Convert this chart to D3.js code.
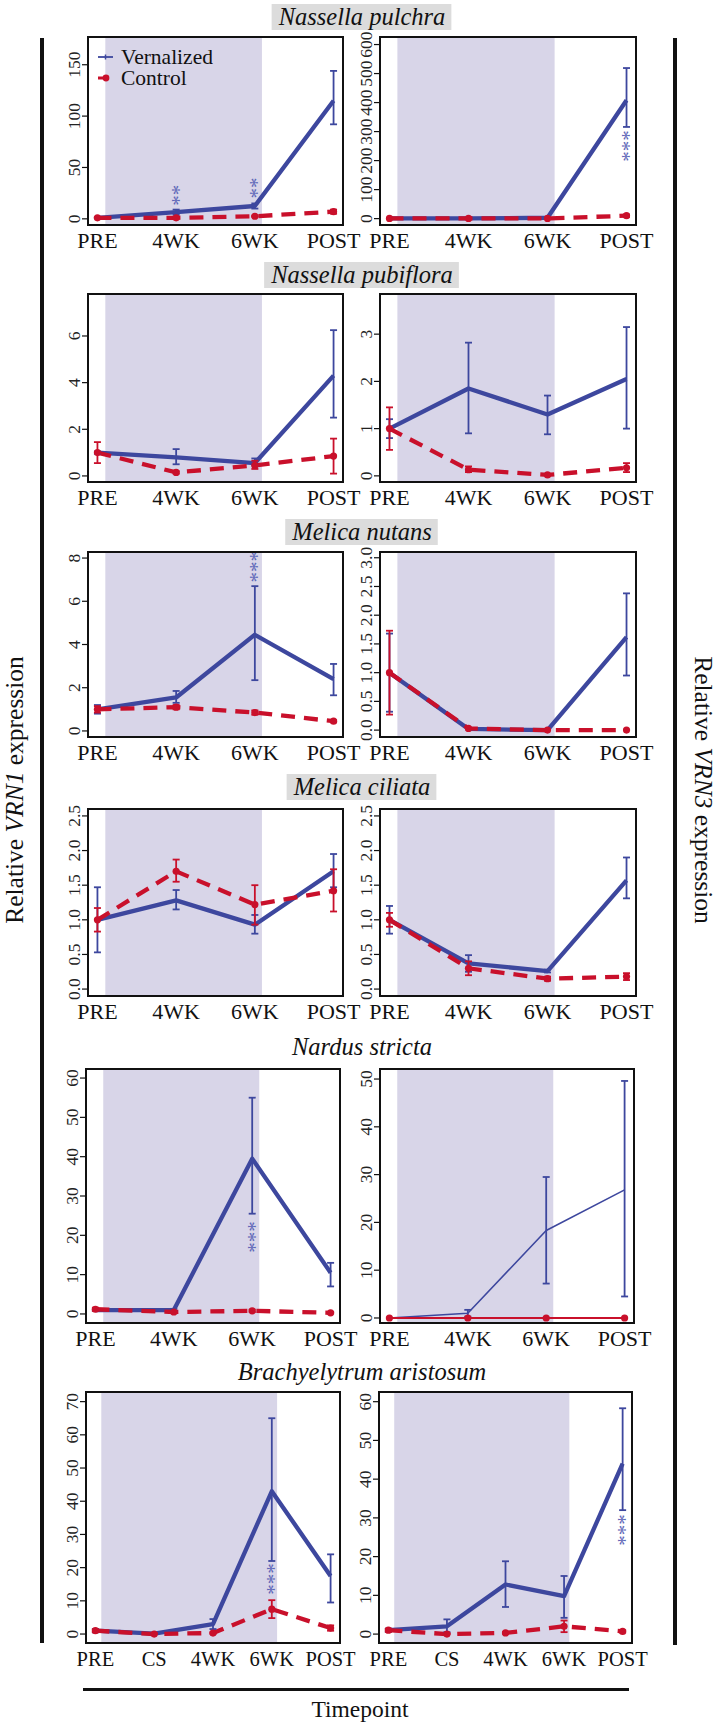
<!DOCTYPE html>
<html><head><meta charset="utf-8">
<script src="https://cdn.jsdelivr.net/npm/d3@7"></script>
<style>body{margin:0;background:#fff}svg{display:block}</style>
</head><body>
<script>
// ---------------- DATA ----------------
const species = ["Nassella pulchra","Nassella pubiflora","Melica nutans","Melica ciliata","Nardus stricta","Brachyelytrum aristosum"];
const timepoints4 = ["PRE","4WK","6WK","POST"];
const timepoints5 = ["PRE","CS","4WK","6WK","POST"];

// VRN1 (left column)
const vrn1VernMean = [[1,6.5,12.5,115],[1.0,0.8,0.55,4.3],[1.0,1.55,4.45,2.4],[1.0,1.28,0.93,1.7],[1.0,1.0,39.5,10.5],[1.0,0.1,3.0,43,17.5]];
const vrn1VernLo   = [[0.5,4,10,92],[0.95,0.5,0.45,2.5],[0.8,1.3,2.35,1.65],[0.53,1.15,0.8,1.47],[0.8,0.7,25.5,7],[0.5,0,1.5,22,9.5]];
const vrn1VernHi   = [[1.5,9,15,144],[1.05,1.15,0.75,6.25],[1.2,1.85,6.7,3.1],[1.47,1.43,1.07,1.95],[1.2,1.3,55,13],[1.5,0.2,4.5,65,24]];
const vrn1CtrlMean = [[1,1,2.5,7],[1.0,0.15,0.45,0.85],[1.0,1.1,0.85,0.45],[1.0,1.7,1.22,1.42],[1.2,0.5,0.8,0.3],[1.0,0.0,0.3,7.5,1.8]];
const vrn1CtrlLo   = [[0.5,0.5,2,5],[0.55,0.1,0.3,0.1],[0.85,1.0,0.75,0.4],[0.83,1.55,0.93,1.12],[0.8,0.3,0.5,0.1],[0.6,0,0.1,4.8,1.0]];
const vrn1CtrlHi   = [[1.5,1.5,3,9],[1.45,0.2,0.65,1.6],[1.15,1.2,0.95,0.5],[1.17,1.87,1.5,1.73],[1.6,0.7,1.1,0.5],[1.4,0.3,0.5,10.2,2.6]];
const vrn1YDomain  = [[-6,177],[-0.26,7.8],[-0.28,8.28],[-0.1,2.6],[-2.3,62.3],[-2.7,72.9]];
const vrn1YTicks   = [[0,50,100,150],[0,2,4,6],[0,2,4,6,8],[0,0.5,1,1.5,2,2.5],[0,10,20,30,40,50,60],[0,10,20,30,40,50,60,70]];
const vrn1Signif   = [[0,1,"**",23],[0,2,"**",30],[2,2,"***",7.6],[4,2,"***",19.6],[5,3,"***",16.6]];

// VRN3 (right column)
const vrn3VernMean = [[0.5,0.5,3,408],[1.0,1.85,1.3,2.05],[1.0,0.02,0.0,1.62],[1.0,0.37,0.26,1.57],[0.0,1.0,18.3,26.8],[1.0,2.0,12.8,9.8,44]];
const vrn3VernLo   = [[0,0,1,316],[0.8,0.9,0.88,1.0],[0.32,0.01,0,0.95],[0.8,0.25,0.24,1.31],[0,0.3,7.2,4.5],[0.6,0.5,7,4.2,32]];
const vrn3VernHi   = [[1,1,5,519],[1.2,2.82,1.7,3.15],[1.68,0.03,0,2.38],[1.2,0.49,0.28,1.9],[0,1.7,29.5,49.6],[1.4,3.8,18.8,15,58.3]];
const vrn3CtrlMean = [[0.5,0.5,0.5,10],[1.0,0.13,0.02,0.17],[1.0,0.03,0.0,0.0],[1.0,0.3,0.15,0.18],[0,0,0,0],[1.0,0.0,0.3,2.0,0.7]];
const vrn3CtrlLo   = [[0,0,0,6],[0.55,0.08,0.01,0.08],[0.27,0.02,0,0],[0.9,0.2,0.12,0.13],[0,0,0,0],[0.6,0,0.1,0.5,0.4]];
const vrn3CtrlHi   = [[1,1,1,14],[1.45,0.2,0.03,0.27],[1.73,0.04,0,0],[1.1,0.4,0.18,0.23],[0,0,0,0],[1.4,0.2,0.5,3.5,1.0]];
const vrn3YDomain  = [[-22,626],[-0.13,3.85],[-0.12,3.1],[-0.1,2.6],[-1.05,52.1],[-2.3,62.5]];
const vrn3YTicks   = [[0,100,200,300,400,500,600],[0,1,2,3],[0,0.5,1,1.5,2,2.5,3],[0,0.5,1,1.5,2,2.5],[0,10,20,30,40,50],[0,10,20,30,40,50,60]];
const vrn3Signif   = [[0,3,"***",250],[5,4,"***",26.9]];

const seriesNames = ["Vernalized","Control"];
const shadeStart = 0.1;
const shadeEnd4 = 2.09, shadeEnd5 = 3.09;

// ---------------- LAYOUT ----------------
const W = 717, H = 1726;
const rowTop    = [37, 294, 552, 809, 1069, 1392];
const rowBottom = [225, 482, 737, 996, 1323, 1643];
const titleY    = [17, 275, 532, 787, 1047, 1372];
const titleBoxed = [true,true,true,true,false,false];
const leftX  = [[88,343],[88,343],[88,343],[88,343],[86,340],[86,340]];
const rightX = [[380,636],[380,636],[380,636],[380,636],[380,634],[379,632]];

const BLUE = "#3d479e", RED = "#c9102b", SHADE = "#d8d5e8", STAR = "#5f68b8";
const FONT = "'Liberation Serif', 'Times New Roman', serif";

const svg = d3.select("body").append("svg").attr("width", W).attr("height", H)
  .style("font-family", FONT);
svg.append("rect").attr("width", W).attr("height", H).attr("fill", "#fff");

function drawPanel(row, xr, col) {
  const isV1 = col === 0;
  const tps = row === 5 ? timepoints5 : timepoints4;
  const n = tps.length;
  const pad = n === 5 ? 0.16 : 0.12;
  const [x0, x1] = xr;
  const y0 = rowBottom[row], y1 = rowTop[row];
  const x = d3.scaleLinear().domain([-pad, n - 1 + pad]).range([x0, x1]);
  const y = d3.scaleLinear().domain(isV1 ? vrn1YDomain[row] : vrn3YDomain[row]).range([y0, y1]);
  const g = svg.append("g");
  const thin = (!isV1 && row === 4);

  const se = n === 5 ? shadeEnd5 : shadeEnd4;
  g.append("rect").attr("x", x(shadeStart)).attr("y", y1)
    .attr("width", x(se) - x(shadeStart)).attr("height", y0 - y1).attr("fill", SHADE);

  const vm = (isV1 ? vrn1VernMean : vrn3VernMean)[row];
  const vl = (isV1 ? vrn1VernLo : vrn3VernLo)[row];
  const vh = (isV1 ? vrn1VernHi : vrn3VernHi)[row];
  const cm = (isV1 ? vrn1CtrlMean : vrn3CtrlMean)[row];
  const cl = (isV1 ? vrn1CtrlLo : vrn3CtrlLo)[row];
  const ch = (isV1 ? vrn1CtrlHi : vrn3CtrlHi)[row];

  const line = d3.line().x((d, i) => x(i)).y(d => y(d));

  g.append("path").attr("d", line(vm)).attr("fill", "none").attr("stroke", BLUE)
    .attr("stroke-width", thin ? 1.6 : 4.3).attr("stroke-linejoin", "round");
  g.append("path").attr("d", line(cm)).attr("fill", "none").attr("stroke", RED)
    .attr("stroke-width", thin ? 2.2 : 4.3)
    .attr("stroke-dasharray", thin ? null : "14,9");

  function errBars(mean, lo, hi, color) {
    mean.forEach((m, i) => {
      if (hi[i] - lo[i] <= 0) return;
      const cx = x(i);
      g.append("line").attr("x1", cx).attr("x2", cx).attr("y1", y(lo[i])).attr("y2", y(hi[i]))
        .attr("stroke", color).attr("stroke-width", 1.8);
      [lo[i], hi[i]].forEach(v => g.append("line").attr("x1", cx - 3.5).attr("x2", cx + 3.5)
        .attr("y1", y(v)).attr("y2", y(v)).attr("stroke", color).attr("stroke-width", 1.8));
    });
  }
  errBars(vm, vl, vh, BLUE);
  errBars(cm, cl, ch, RED);
  cm.forEach((m, i) => g.append("circle").attr("cx", x(i)).attr("cy", y(m)).attr("r", 3.6).attr("fill", RED));

  const fs = 21;
  (isV1 ? vrn1Signif : vrn3Signif).filter(s => s[0] === row).forEach(s => {
    g.append("text").attr("transform", `translate(${x(s[1]) + fs * 0.45},${y(s[3])}) rotate(-90)`)
      .attr("text-anchor", "middle").attr("fill", STAR).attr("font-size", fs).text(s[2]);
  });

  g.append("rect").attr("x", x0).attr("y", y1).attr("width", x1 - x0).attr("height", y0 - y1)
    .attr("fill", "none").attr("stroke", "#111").attr("stroke-width", 2);

  const ticks = isV1 ? vrn1YTicks[row] : vrn3YTicks[row];
  const dec = ticks.some(t => t % 1 !== 0);
  const fmt = dec ? d3.format(".1f") : d3.format("d");
  ticks.forEach(t => {
    g.append("line").attr("x1", x0 - 6).attr("x2", x0).attr("y1", y(t)).attr("y2", y(t))
      .attr("stroke", "#111").attr("stroke-width", 1.2);
    g.append("text").attr("transform", `translate(${x0 - 8},${y(t)}) rotate(-90)`)
      .attr("text-anchor", "middle").attr("font-size", 17.5).attr("fill", "#222").text(fmt(t));
  });

  tps.forEach((t, i) => g.append("text").attr("x", x(i)).attr("y", y0 + 23)
    .attr("text-anchor", "middle").attr("font-size", n === 5 ? 20.5 : 22).attr("fill", "#111").text(t));
}

species.forEach((sp, r) => {
  drawPanel(r, leftX[r], 0);
  drawPanel(r, rightX[r], 1);
  const t = svg.append("text").attr("x", 362).attr("y", titleY[r] + 8)
    .attr("text-anchor", "middle").attr("font-size", 24.5).attr("font-style", "italic")
    .attr("fill", "#111").text(sp);
  if (titleBoxed[r]) {
    const bb = t.node().getBBox();
    svg.insert("rect", () => t.node()).attr("x", bb.x - 6).attr("y", titleY[r] - 13)
      .attr("width", bb.width + 12).attr("height", 26).attr("fill", "#dcdcdc");
  }
  if (r === 0) {
    const lg = svg.append("g");
    const ly = [57, 78];
    lg.append("line").attr("x1", 98).attr("x2", 113).attr("y1", ly[0]).attr("y2", ly[0]).attr("stroke", BLUE).attr("stroke-width", 1.8);
    lg.append("line").attr("x1", 105.5).attr("x2", 105.5).attr("y1", ly[0] - 2.5).attr("y2", ly[0] + 2.5).attr("stroke", BLUE).attr("stroke-width", 1.5);
    lg.append("line").attr("x1", 98).attr("x2", 106).attr("y1", ly[1]).attr("y2", ly[1]).attr("stroke", RED).attr("stroke-width", 3);
    lg.append("circle").attr("cx", 106).attr("cy", ly[1]).attr("r", 3.4).attr("fill", RED);
    seriesNames.forEach((s, i) => lg.append("text").attr("x", 121).attr("y", ly[i] + 7)
      .attr("font-size", 21.5).attr("fill", "#111").text(s));
  }
});

svg.append("rect").attr("x", 40).attr("y", 38).attr("width", 4).attr("height", 1605).attr("fill", "#111");
svg.append("rect").attr("x", 673).attr("y", 38).attr("width", 4).attr("height", 1607).attr("fill", "#111");
svg.append("rect").attr("x", 83).attr("y", 1688).attr("width", 546).attr("height", 3).attr("fill", "#111");

const lt = svg.append("text").attr("transform", "translate(23,790) rotate(-90)")
  .attr("text-anchor", "middle").attr("font-size", 25.5).attr("fill", "#111");
lt.append("tspan").text("Relative ");
lt.append("tspan").attr("font-style", "italic").text("VRN1");
lt.append("tspan").text(" expression");
const rt = svg.append("text").attr("transform", "translate(695,790) rotate(90)")
  .attr("text-anchor", "middle").attr("font-size", 25.5).attr("fill", "#111");
rt.append("tspan").text("Relative ");
rt.append("tspan").attr("font-style", "italic").text("VRN3");
rt.append("tspan").text(" expression");
svg.append("text").attr("x", 360).attr("y", 1717).attr("text-anchor", "middle")
  .attr("font-size", 23.5).attr("fill", "#111").text("Timepoint");
</script>
</body></html>
